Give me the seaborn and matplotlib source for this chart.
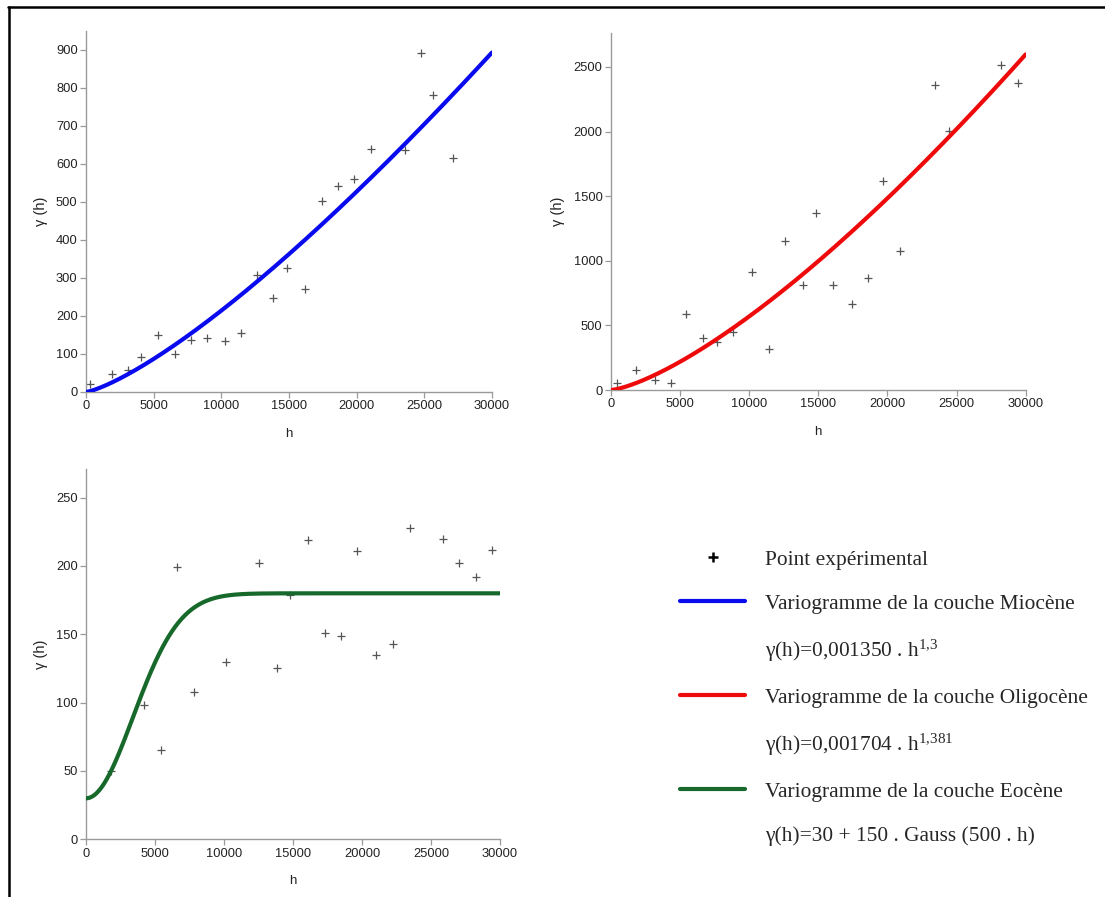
import numpy as np
import pandas as pd
import matplotlib
matplotlib.use("Agg")
import matplotlib.pyplot as plt
from matplotlib.lines import Line2D
import seaborn as sns

# ---------------- data ----------------
mio_h = [300, 1900, 3130, 4070, 5350, 6560, 7790, 8920, 10250, 11490, 12620, 13830,
         14840, 16190, 17430, 18610, 19770, 21070, 23540, 24750, 25680, 27110]
mio_g = [21, 46, 58, 91, 150, 100, 136, 143, 133, 154, 308, 248,
         326, 271, 501, 541, 560, 639, 635, 890, 780, 616]

oli_h = [460, 1780, 3160, 4340, 5400, 6680, 7670, 8800, 10200, 11410, 12610, 13910,
         14850, 16080, 17430, 18590, 19700, 20930, 23410, 24480, 28240, 29420]
oli_g = [52, 152, 80, 54, 591, 402, 374, 446, 913, 315, 1151, 813,
         1373, 813, 666, 869, 1618, 1078, 2358, 2002, 2513, 2374]

eoc_h = [1810, 4230, 5460, 6590, 7850, 10170, 12540, 13840, 14780, 16090, 17320,
         18480, 19640, 20990, 22250, 23480, 25890, 27050, 28260, 29420]
eoc_g = [50, 98, 65, 199, 108, 130, 202, 125, 179, 219, 151,
         149, 211, 135, 143, 228, 220, 202, 192, 212]

# model parameters (from the legend)
mio_coef, mio_exp = 0.001350, 1.3
oli_coef, oli_exp = 0.001704, 1.381
eoc_nugget, eoc_sill, eoc_scale = 30, 150, 4800

legend_labels = [
    "Point expérimental",
    "Variogramme de la couche Miocène",
    r"γ(h)=0,001350 . $\mathrm{h}^{1{,}3}$",
    "Variogramme de la couche Oligocène",
    r"γ(h)=0,001704 . $\mathrm{h}^{1{,}381}$",
    "Variogramme de la couche Eocène",
    "γ(h)=30 + 150 . Gauss (500 . h)",
]

# ---------------- style ----------------
sns.set_theme(style="ticks")
plt.rcParams["font.family"] = ["Liberation Sans", "DejaVu Sans"]
plt.rcParams["mathtext.fontset"] = "custom"
plt.rcParams["mathtext.rm"] = "Liberation Serif"
plt.rcParams["mathtext.it"] = "Liberation Serif:italic"
plt.rcParams["mathtext.default"] = "regular"

W, H = 1105, 897
fig = plt.figure(figsize=(W / 100, H / 100), dpi=100)
fig.patch.set_facecolor("white")

hh = np.linspace(0, 30000, 400)
curves = {
    "mio": mio_coef * hh ** mio_exp,
    "oli": oli_coef * hh ** oli_exp,
    "eoc": eoc_nugget + eoc_sill * (1 - np.exp(-(hh / eoc_scale) ** 2)),
}

panels = [
    dict(rect=[0.0778, 0.563, 0.3674, 0.4028], h=mio_h, g=mio_g, curve="mio",
         color="#0a0aee", ylim=950, yticks=range(0, 901, 100)),
    dict(rect=[0.5529, 0.5652, 0.3753, 0.3977], h=oli_h, g=oli_g, curve="oli",
         color="#ee0a0a", ylim=2760, yticks=range(0, 2501, 500)),
    dict(rect=[0.0778, 0.0643, 0.3747, 0.4129], h=eoc_h, g=eoc_g, curve="eoc",
         color="#16692a", ylim=271, yticks=range(0, 251, 50)),
]

spine_col = "#9a9a9a"
for p in panels:
    ax = fig.add_axes(p["rect"])
    df = pd.DataFrame({"h": p["h"], "g": p["g"]})
    sns.scatterplot(data=df, x="h", y="g", marker="+", s=40, color="#555555",
                    linewidth=0.9, ax=ax, zorder=2)
    cdf = pd.DataFrame({"h": hh, "g": curves[p["curve"]]})
    sns.lineplot(data=cdf, x="h", y="g", color=p["color"], linewidth=3.0,
                 ax=ax, zorder=3)
    ax.set_xlim(0, 30000)
    ax.set_ylim(0, p["ylim"])
    ax.set_xticks(range(0, 30001, 5000))
    ax.set_yticks(list(p["yticks"]))
    ax.set_xlabel("h", fontsize=9.5, color="#222222", labelpad=11)
    ax.set_ylabel("γ (h)", fontsize=10.5, color="#222222", labelpad=6)
    sns.despine(ax=ax)
    for s in ("left", "bottom"):
        ax.spines[s].set_color(spine_col)
        ax.spines[s].set_linewidth(1.0)
    ax.tick_params(length=4, width=0.9, color=spine_col, labelsize=9.3,
                   labelcolor="#222222", pad=2)
    ax.set_facecolor("white")

# ---------------- legend ----------------
handles = [
    Line2D([], [], linestyle="none", marker="+", color="black", markersize=7, mew=1.8),
    Line2D([], [], color="#0a0aee", linewidth=3),
    Line2D([], [], linestyle="none"),
    Line2D([], [], color="#ee0a0a", linewidth=3),
    Line2D([], [], linestyle="none"),
    Line2D([], [], color="#16692a", linewidth=3),
    Line2D([], [], linestyle="none"),
]
fig.legend(handles, legend_labels, loc="upper left", bbox_to_anchor=(0.6154, 0.387),
           frameon=False, borderpad=0, borderaxespad=0, handlelength=3.05,
           handletextpad=0.93, labelspacing=1.12,
           prop={"family": "Liberation Serif", "size": 15.4})

# ---------------- frame (top and left) ----------------
fig.add_artist(Line2D([0.007, 1.0], [0.9922, 0.9922], transform=fig.transFigure,
                      color="black", linewidth=1.8))
fig.add_artist(Line2D([0.0081, 0.0081], [0.0, 0.9922], transform=fig.transFigure,
                      color="black", linewidth=1.8))

fig.savefig("out.png", dpi=100, facecolor="white")
